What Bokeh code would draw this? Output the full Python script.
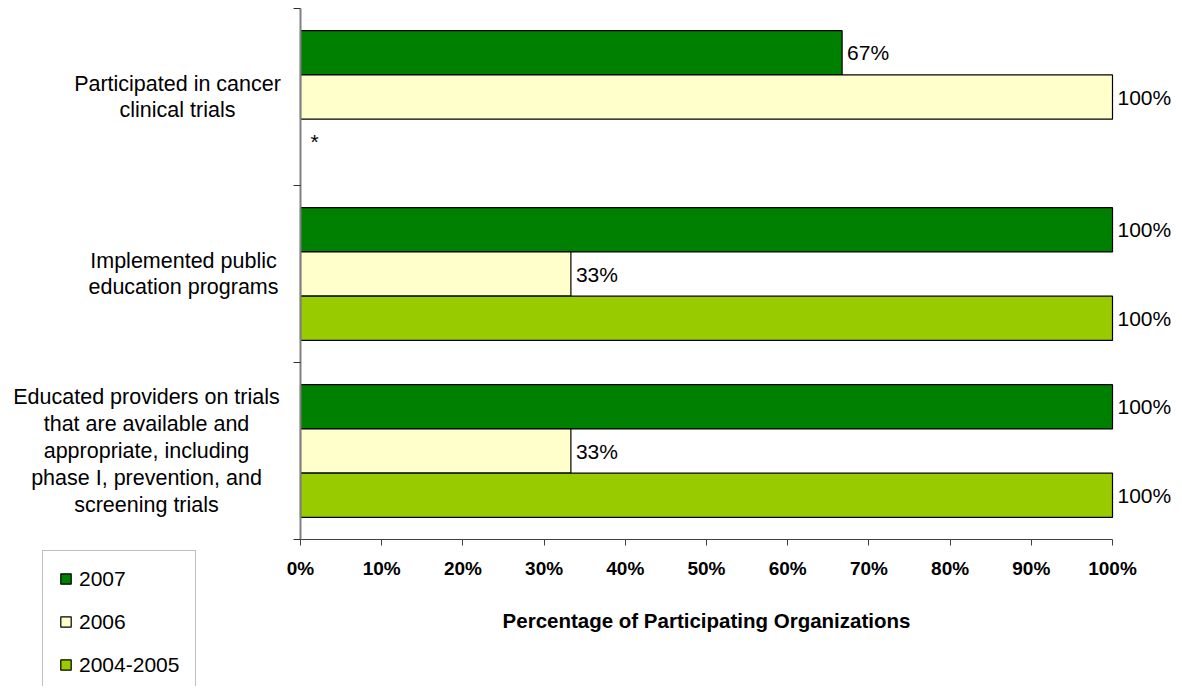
from bokeh.plotting import figure
from bokeh.models import (Range1d, FixedTicker, PrintfTickFormatter, Label,
                          Legend, LegendItem, ColumnDataSource, LinearAxis)
from bokeh.embed import file_html
from bokeh.resources import INLINE
from bokeh.core.properties import value

# ---------------- data ----------------
categories = [
    "Participated in cancer\nclinical trials",
    "Implemented public\neducation programs",
    "Educated providers on trials\nthat are available and\nappropriate, including\nphase I, prevention, and\nscreening trials",
]
series_names = ["2007", "2006", "2004-2005"]
values_2007 = [66.7, 100, 100]
values_2006 = [100, 33.3, 33.3]
values_2004_2005 = [None, 100, 100]
labels_2007 = ["67%", "100%", "100%"]
labels_2006 = ["100%", "33%", "33%"]
labels_2004_2005 = ["*", "100%", "100%"]
x_ticks = [0, 10, 20, 30, 40, 50, 60, 70, 80, 90, 100]
x_title = "Percentage of Participating Organizations"

# ---------------- style ----------------
colors = ["#008000", "#FFFFCC", "#99CC00"]
bar_offsets = [0.25, 0.0, -0.25]
bar_height = 0.25
FONT = "Liberation Sans"
W, H = 1180, 686
X0, Y0 = 300, 539            # pixel position of the (0, 0) corner
px_per_x = 812 / 100.0
px_per_y = 177.0
label_centers_px = [177, 183, 146]   # x pixel of category label centres
line_h_px = 26.8

p = figure(width=W, height=H, output_backend="svg", toolbar_location=None,
           x_range=Range1d(-X0 / px_per_x, (W - X0) / px_per_x),
           y_range=Range1d((Y0 - H) / px_per_y, Y0 / px_per_y),
           min_border_left=0, min_border_right=0,
           min_border_top=0, min_border_bottom=0,
           x_axis_location=None, y_axis_location=None)
p.outline_line_color = None
p.xgrid.visible = False
p.ygrid.visible = False
p.background_fill_color = "white"

xaxis = LinearAxis(bounds=(0, 100), ticker=FixedTicker(ticks=x_ticks),
                   formatter=PrintfTickFormatter(format="%d%%"), fixed_location=0)
xaxis.axis_line_color = "#404040"
xaxis.axis_line_width = 1
xaxis.major_tick_line_color = "#404040"
xaxis.major_tick_out = 6
xaxis.major_tick_in = 0
xaxis.minor_tick_line_color = None
xaxis.major_label_text_font = FONT
xaxis.major_label_text_font_style = "bold"
xaxis.major_label_text_font_size = "19px"
xaxis.major_label_text_color = "black"
xaxis.major_label_standoff = 12
xaxis.axis_label = x_title
xaxis.axis_label_text_font = FONT
xaxis.axis_label_text_font_style = "bold"
xaxis.axis_label_text_font_size = "20.5px"
xaxis.axis_label_text_color = "black"
xaxis.axis_label_standoff = 27
p.add_layout(xaxis, "below")

yaxis = LinearAxis(bounds=(0, 3), ticker=FixedTicker(ticks=[0, 1, 2, 3]), fixed_location=0)
yaxis.axis_line_color = "#808080"
yaxis.axis_line_width = 2
yaxis.major_tick_line_color = "#303030"
yaxis.major_tick_out = 7
yaxis.major_tick_in = 0
yaxis.minor_tick_line_color = None
yaxis.major_label_text_font_size = "0px"
yaxis.major_label_text_alpha = 0
p.add_layout(yaxis, "left")

n = len(categories)
centers = [n - i - 0.5 for i in range(n)]
all_vals = [values_2007, values_2006, values_2004_2005]
all_labels = [labels_2007, labels_2006, labels_2004_2005]

renderers = []
for s, (vals, labs) in enumerate(zip(all_vals, all_labels)):
    ys = [c + bar_offsets[s] for c in centers]
    bar_y = [y for y, v in zip(ys, vals) if v is not None]
    bar_v = [v for v in vals if v is not None]
    src = ColumnDataSource(dict(y=bar_y, right=bar_v))
    r = p.hbar(y="y", left=0, right="right", height=bar_height, source=src,
               fill_color=colors[s], line_color="black", line_width=1.2)
    renderers.append(r)
    tx = [v if v is not None else 0 for v in vals]
    txt_src = ColumnDataSource(dict(x=tx, y=ys, t=labs,
                                    off=[5 if v is not None else 10 for v in vals]))
    p.text(x="x", y="y", text="t", source=txt_src, x_offset="off",
           text_baseline="middle", text_align="left",
           text_font=value(FONT), text_font_size="21px", text_color="black")

# category labels
for i, cat in enumerate(categories):
    lines = cat.split("\n")
    m = len(lines)
    for j, line in enumerate(lines):
        y = centers[i] + ((m - 1) / 2 - j) * line_h_px / px_per_y
        p.add_layout(Label(x=(label_centers_px[i] - X0) / px_per_x, y=y,
                           text=line, text_align="center", text_baseline="middle",
                           text_font=FONT, text_font_size="21.5px", text_color="black"))

legend_top = 550
legend_pad = 16
legend_h = 2 * legend_pad + 3 * 24.5 + 2 * 19
legend = Legend(items=[LegendItem(label=series_names[k], renderers=[renderers[k]])
                       for k in range(3)],
                location=(58 - legend_pad, H - legend_top - legend_h),
                orientation="vertical", padding=legend_pad, spacing=19,
                glyph_width=13, glyph_height=13, label_height=20,
                label_standoff=7, label_text_font=FONT, label_text_font_size="21px",
                label_text_color="black",
                border_line_color="#808080", border_line_width=1.5,
                background_fill_color="white", background_fill_alpha=1, margin=0)
p.add_layout(legend, "center")

open("out.html", "w").write(file_html(p, INLINE))
